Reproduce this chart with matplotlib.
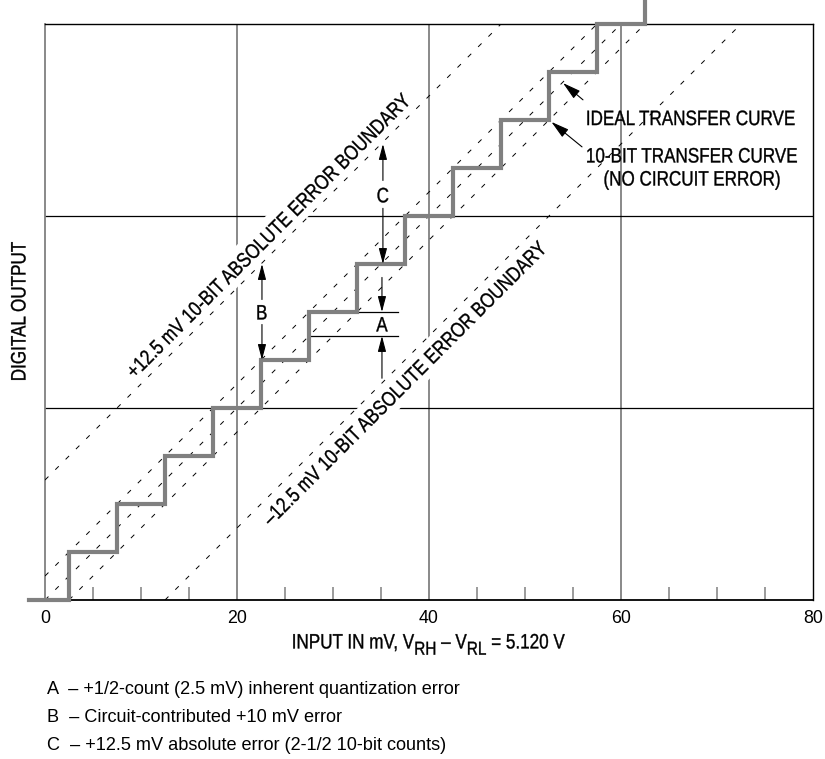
import matplotlib
matplotlib.use("Agg")
import matplotlib.pyplot as plt
from matplotlib.font_manager import FontProperties
from matplotlib.textpath import TextPath, text_to_path
from matplotlib.path import Path
from matplotlib.patches import PathPatch, Rectangle
from matplotlib.transforms import Affine2D, IdentityTransform


# --- chart data -------------------------------------------------------------
LSB_MV = 5.0                     # one 10-bit count, 5.120 V / 1024
stair_start_mv = -1.7
code_transitions_mv = [2.5, 7.5, 12.5, 17.5, 22.5, 27.5, 32.5,
                       37.5, 42.5, 47.5, 52.5, 57.5, 62.5]
output_codes = [0, 1, 2, 3, 4, 5, 6, 7, 8, 9, 10, 11, 12, 13]
boundary_offsets_mv = [12.5, 2.5, 0.0, -2.5, -12.5]
x_major = [0, 20, 40, 60, 80]
x_minor = [5, 10, 15, 25, 30, 35, 45, 50, 55, 65, 70, 75]
code_grid = [4, 8]

# error markers (mV position, code values)
a_x, a_low, a_high = 35.1, 5.5, 6.0
a_line_low_start, a_line_high_start, a_line_end = 27.5, 32.5, 36.8
b_x, b_low, b_high = 22.6, 5.0, 7.0
c_x, c_low, c_high = 35.2, 7.0, 9.5

footnotes = [
    "A  \u2013 +1/2-count (2.5 mV) inherent quantization error",
    "B  \u2013 Circuit-contributed +10 mV error",
    "C  \u2013 +12.5 mV absolute error (2-1/2 10-bit counts)",
]

# --- fonts ------------------------------------------------------------------
REGULAR = "Liberation Sans"
NARROW_X = 0.82          # horizontal squeeze to mimic a narrow Helvetica
CAP = 0.716              # cap height / em
NSIZE = 15.0
DPI = 100
W, H = 825, 759

plt.rcParams["font.family"] = [REGULAR, "DejaVu Sans"]


def narrow_path(pieces, size):
    paths = []
    cursor = 0.0
    for s, scale, dy in pieces:
        if s is None:                       # explicit gap in em
            cursor += scale * size
            continue
        prop = FontProperties(family=REGULAR, size=size * scale)
        paths.append(TextPath((cursor, dy * size), s, prop=prop))
        w, _, _ = text_to_path.get_text_width_height_descent(s, prop, ismath=False)
        cursor += w
    return Path.make_compound_path(*paths)


def narrow_text(parent, xy, pieces, coords, size=NSIZE, rot=0.0, ha="center",
                box_pad=None, zorder=5):
    if isinstance(pieces, str):
        pieces = [(pieces, 1.0, 0.0)]
    path = narrow_path(pieces, size)
    ext = path.get_extents()
    cx = {"left": ext.x0, "right": ext.x1}.get(ha, (ext.x0 + ext.x1) / 2)
    cy = CAP * size / 2
    px, py = coords.transform(xy)
    tr = (Affine2D().translate(-cx, -cy)
          .scale(NARROW_X * DPI / 72, DPI / 72)
          .rotate_deg(rot).translate(px, py))
    artists = []
    if box_pad is not None:
        artists.append(Rectangle((ext.x0 - box_pad, -box_pad),
                                 ext.width + 2 * box_pad, CAP * size + 2 * box_pad,
                                 transform=tr, facecolor="white",
                                 edgecolor="none", zorder=2))
    artists.append(PathPatch(path, transform=tr, facecolor="black",
                             edgecolor="black", lw=0.25, zorder=zorder))
    for a in artists:
        parent.add_artist(a)
        a.set_clip_on(False)


GRAY = "#808080"
fig = plt.figure(figsize=(W / DPI, H / DPI), dpi=DPI)
ax = fig.add_axes([45 / W, 159 / H, 768 / W, 576 / H])
ax.set_xlim(0, 80)
ax.set_ylim(0, 12)

# grid
for xv in x_major[1:-1]:
    ax.axvline(xv, color=GRAY, lw=1.3, zorder=1)
for yv in code_grid:
    ax.axhline(yv, color="black", lw=0.9, zorder=1)

# error boundaries, quantization band and ideal line
for off in boundary_offsets_mv:
    ax.axline((-off, 0.0), slope=1.0 / LSB_MV, color="black", lw=0.7,
              dashes=(5, 10), zorder=3)

# 10-bit transfer staircase
ax.step([stair_start_mv] + code_transitions_mv, output_codes, where="post",
        color=GRAY, lw=3.0, solid_joinstyle="miter", clip_on=False, zorder=4)

# axes styling
ax.set_xticks(x_major)
ax.set_xticks(x_minor, minor=True)
ax.set_yticks([])
ax.tick_params(axis="x", which="major", length=0, pad=7, labelsize=12.8)
ax.tick_params(axis="x", which="minor", direction="in", length=9.5,
               width=1.1, color=GRAY)
for sp in ax.spines.values():
    sp.set_linewidth(1.0)
    sp.set_color("black")
ax.spines["left"].set_color(GRAY)
ax.spines["left"].set_linewidth(1.3)
ax.spines["bottom"].set_linewidth(1.3)

pix = IdentityTransform()
narrow_text(fig, (429, H - 641), [("INPUT IN mV, V", 1.0, 0.0), ("RH", 0.9, -0.3),
                                  (None, 0.278, 0.0), ("\u2013 V", 1.0, 0.0),
                                  ("RL", 0.9, -0.3), (None, 0.278, 0.0),
                                  ("= 5.120 V", 1.0, 0.0)], pix)
narrow_text(fig, (18, H - 311), "DIGITAL OUTPUT", pix, rot=90)

# boundary labels
narrow_text(ax, (23.23, 7.60), "+12.5 mV 10-BIT ABSOLUTE ERROR BOUNDARY",
            ax.transData, rot=45, box_pad=5.5)
narrow_text(ax, (37.40, 4.52), "\u201312.5 mV 10-BIT ABSOLUTE ERROR BOUNDARY",
            ax.transData, rot=45, box_pad=5.5)


def arrow(tail, tip, head=0.95, width=0.25):
    ax.annotate("", xy=tip, xytext=tail,
                arrowprops=dict(arrowstyle=f"-|>,head_length={head},head_width={width}",
                                color="black", lw=0.8, shrinkA=0, shrinkB=0,
                                mutation_scale=10), zorder=5)


# A
ax.plot([a_line_high_start, a_line_end], [a_high, a_high], color="black", lw=0.9, zorder=3)
ax.plot([a_line_low_start, a_line_end], [a_low, a_low], color="black", lw=0.9, zorder=3)
arrow((a_x, a_high + 0.72), (a_x, a_high))
arrow((a_x, a_low - 0.88), (a_x, a_low))
narrow_text(ax, (a_x, (a_low + a_high) / 2), "A", ax.transData)

# B
b_mid = (b_low + b_high) / 2
arrow((b_x, b_mid + 0.26), (b_x, b_high))
arrow((b_x, b_mid - 0.26), (b_x, b_low))
narrow_text(ax, (b_x, b_mid), "B", ax.transData)

# C
c_mid = 8.44
arrow((c_x, c_mid + 0.3), (c_x, c_high))
arrow((c_x, c_mid - 0.28), (c_x, c_low))
narrow_text(ax, (c_x, c_mid), "C", ax.transData)

# curve callouts
narrow_text(ax, (56.5, 10.05), "IDEAL TRANSFER CURVE", ax.transData, ha="left")
narrow_text(ax, (67.4, 9.27), "10-BIT TRANSFER CURVE", ax.transData)
narrow_text(ax, (67.4, 8.79), "(NO CIRCUIT ERROR)", ax.transData)
arrow((56.04, 10.42), (53.96, 10.77), head=1.1, width=0.3)
arrow((55.94, 9.44), (52.75, 9.96), head=1.1, width=0.3)

# footnotes
for i, line in enumerate(footnotes):
    fig.text(47 / W, 1 - (689 + 28 * i) / H, line, ha="left", va="center",
             fontsize=13.1)

fig.savefig("out.png", dpi=DPI)
